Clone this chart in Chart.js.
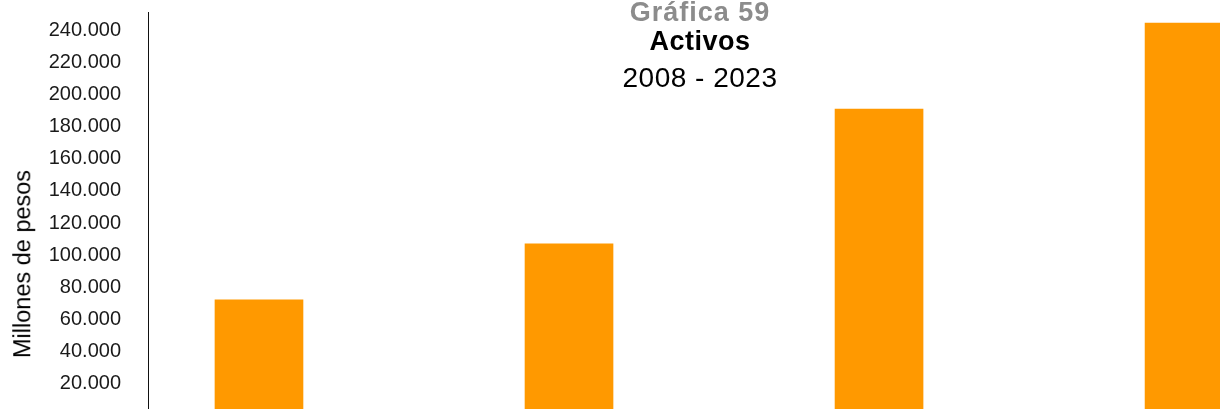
<!DOCTYPE html>
<html>
<head>
<meta charset="utf-8">
<script src="https://cdn.jsdelivr.net/npm/chart.js@4.4.1/dist/chart.umd.min.js"></script>
<style>
    html, body { margin: 0; padding: 0; background: #fff; overflow: hidden; width: 1220px; height: 409px; }
    #wrap { position: relative; width: 1300px; height: 430px; }
    #chart { position: absolute; left: 0; top: 0; }
    .title { position: absolute; left: 500px; width: 400px; text-align: center; white-space: nowrap;
             font-family: "Liberation Sans", Arial, Helvetica, sans-serif; line-height: 1; }
    #t1 { top: -1px; font-size: 27px; font-weight: bold; color: #8c8c8c; letter-spacing: 1px; }
    #t2 { top: 28px; font-size: 27px; font-weight: bold; color: #000; letter-spacing: 0.5px; }
    #t3 { top: 64px; font-size: 28px; color: #000; letter-spacing: 0.5px; }
    #ytitle { position: absolute; left: 23px; top: 264px; transform: translate(-50%, -50%) rotate(-90deg);
              font-family: "Liberation Sans", Arial, Helvetica, sans-serif; font-size: 23.5px; color: #000;
              white-space: nowrap; line-height: 1; }
</style>
</head>
<body>
<div id="wrap">
    <canvas id="chart" width="1300" height="430"></canvas>
    <div class="title" id="t1">Gráfica 59</div>
    <div class="title" id="t2">Activos</div>
    <div class="title" id="t3">2008 - 2023</div>
    <div id="ytitle">Millones de pesos</div>
</div>
<script>
// Data (millones de pesos)
const years = ['2008', '2013', '2018', '2023'];
const activos = [71000, 105800, 189700, 243100];
const yTicks = [20000, 40000, 60000, 80000, 100000, 120000, 140000, 160000, 180000, 200000, 220000, 240000];

function fmt(v) {
    return String(v).replace(/\B(?=(\d{3})+(?!\d))/g, '.');
}

const ctx = document.getElementById('chart').getContext('2d');
new Chart(ctx, {
    type: 'bar',
    data: {
        labels: years,
        datasets: [{
            label: 'Activos',
            data: years.map((y, i) => ({ x: i, y: activos[i] })),
            backgroundColor: '#ff9900',
            borderWidth: 0,
            barThickness: 88
        }]
    },
    options: {
        responsive: false,
        animation: false,
        layout: {
            padding: { left: 0, right: 48, top: 12, bottom: 16 }
        },
        plugins: {
            legend: { display: false },
            title: { display: false },
            tooltip: { enabled: false }
        },
        scales: {
            x: {
                type: 'linear',
                display: false,
                offset: false,
                min: -0.358,
                max: 3.203
            },
            y: {
                min: 0,
                max: 250000,
                afterFit: (scale) => { scale.width = 148; },
                afterBuildTicks: (scale) => {
                    scale.ticks = yTicks.map(v => ({ value: v }));
                },
                grid: { display: false, drawTicks: true, tickLength: 27 },
                border: { display: true, color: '#111', width: 1 },
                ticks: {
                    padding: 0,
                    labelOffset: 2,
                    color: '#1a1a1a',
                    font: { family: '"Liberation Sans", Arial, Helvetica, sans-serif', size: 20, lineHeight: 1 },
                    callback: (v) => fmt(v)
                }
            }
        }
    }
});
</script>
</body>
</html>
